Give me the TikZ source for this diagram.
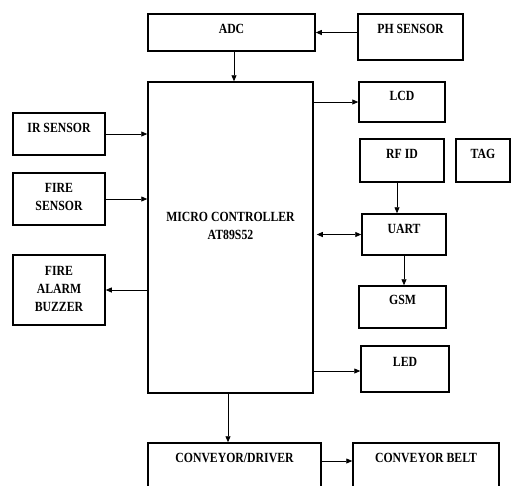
\documentclass[tikz,border=0pt]{standalone}
\usepackage{fontspec}
\setmainfont{Liberation Serif}
\usepackage{tikz}
\usetikzlibrary{arrows.meta,positioning}

\begin{document}
\begin{tikzpicture}[x=1pt,y=-1pt,
    blk/.style={draw, line width=1.5pt, inner sep=0pt},
    lbl/.style={font=\fontsize{14}{18}\selectfont\bfseries, align=center, inner sep=0pt, anchor=north, xscale=0.84},
    arr/.style={-{Triangle[length=6pt,width=5pt]}, line width=0.8pt},
    dbl/.style={{Triangle[length=6pt,width=5pt]}-{Triangle[length=6pt,width=5pt]}, line width=0.8pt}]
    \clip (0,0) rectangle (511,485);

    % Blocks
    \node[blk, minimum width=167pt, minimum height=37pt] (adc) at (231.5,32.5) {};
    \node[blk, minimum width=105pt, minimum height=46pt] (ph) at (410.5,37) {};
    \node[blk, minimum width=165pt, minimum height=311pt] (mc) at (230.5,237.5) {};
    \node[blk, minimum width=92pt, minimum height=42pt] (ir) at (59,134) {};
    \node[blk, minimum width=92pt, minimum height=52pt] (fire) at (59,199) {};
    \node[blk, minimum width=92pt, minimum height=70pt] (buzz) at (59,290) {};
    \node[blk, minimum width=86pt, minimum height=40pt] (lcd) at (402,102) {};
    \node[blk, minimum width=84pt, minimum height=43pt] (rfid) at (402,160.5) {};
    \node[blk, minimum width=54pt, minimum height=43pt] (tag) at (483,160.5) {};
    \node[blk, minimum width=84pt, minimum height=41pt] (uart) at (404,234.5) {};
    \node[blk, minimum width=87pt, minimum height=42pt] (gsm) at (402.5,307) {};
    \node[blk, minimum width=88pt, minimum height=46pt] (led) at (405,369) {};
    \node[blk, minimum width=173pt, minimum height=45pt] (conv) at (234.5,465.5) {};
    \node[blk, minimum width=146pt, minimum height=45pt] (belt) at (426,465.5) {};

    % Labels
    \node[lbl] (adct) at ([yshift=-10.4pt]adc.north) {ADC};
    \node[lbl] (pht) at ([yshift=-10.4pt]ph.north) {PH SENSOR};
    \node[lbl] (mct) at ([yshift=-130.4pt]mc.north) {MICRO CONTROLLER\\AT89S52};
    \node[lbl] (irt) at ([yshift=-10.4pt]ir.north) {IR SENSOR};
    \node[lbl] (firet) at ([yshift=-10.4pt]fire.north) {FIRE\\SENSOR};
    \node[lbl] (buzzt) at ([yshift=-11.4pt]buzz.north) {FIRE\\ALARM\\BUZZER};
    \node[lbl] (lcdt) at ([yshift=-9.4pt]lcd.north) {LCD};
    \node[lbl] (rfidt) at ([yshift=-10.4pt]rfid.north) {RF ID};
    \node[lbl] (tagt) at ([yshift=-10.4pt]tag.north) {TAG};
    \node[lbl] (uartt) at ([yshift=-10.4pt]uart.north) {UART};
    \node[lbl] (gsmt) at ([yshift=-9.4pt]gsm.north) {GSM};
    \node[lbl] (ledt) at ([yshift=-11.4pt]led.north) {LED};
    \node[lbl] (convt) at ([yshift=-10.4pt]conv.north) {CONVEYOR/DRIVER};
    \node[lbl] (beltt) at ([yshift=-10.4pt]belt.north) {CONVEYOR BELT};

    % Connectors
    \coordinate (adco) at ([xshift=2.5pt]adc.south);
    \coordinate (mco) at ([xshift=-2.5pt]mc.south);
    \coordinate (rfo) at ([xshift=-5pt]rfid.south);
    \coordinate (cvo) at ([yshift=4.5pt]conv.east);
    \coordinate (ledi) at ([yshift=-2pt]led.west);
    \draw[arr] (ph.west |- adc.east) -- (adc.east);
    \draw[arr] (adco) -- (adco |- mc.north);
    \draw[arr] (ir.east) -- (ir.east -| mc.west);
    \draw[arr] (fire.east) -- (fire.east -| mc.west);
    \draw[arr] (mc.west |- buzz.east) -- (buzz.east);
    \draw[arr] (mc.east |- lcd.west) -- (lcd.west);
    \draw[arr] (rfo) -- (rfo |- uart.north);
    \draw[dbl, shorten <=3pt] (mc.east |- uart.west) -- (uart.west);
    \draw[arr] (uart.south) -- (uart.south |- gsm.north);
    \draw[arr] (mc.east |- ledi) -- (ledi);
    \draw[arr] (mco) -- (mco |- conv.north);
    \draw[arr] (cvo) -- (cvo -| belt.west);

\end{tikzpicture}
\end{document}
